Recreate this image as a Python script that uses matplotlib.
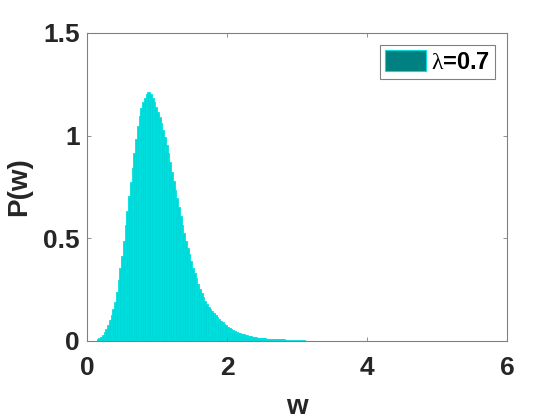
import matplotlib
matplotlib.use("Agg")
import matplotlib.pyplot as plt
import numpy as np

plt.rcParams['font.family'] = ['Liberation Sans', 'DejaVu Sans']
plt.rcParams['mathtext.fontset'] = 'custom'
plt.rcParams['mathtext.rm'] = 'Liberation Serif'
plt.rcParams['mathtext.it'] = 'Liberation Serif'

bin_start = 0.15
bin_width = 0.025
heights = [
    0.003, 0.008, 0.016, 0.026, 0.037, 0.052, 0.071, 0.095, 0.122, 0.152,
    0.186, 0.232, 0.290, 0.352, 0.41, 0.48, 0.56, 0.63, 0.70, 0.77,
    0.84, 0.91, 0.98, 1.04, 1.09, 1.13, 1.16, 1.18, 1.20, 1.21,
    1.20, 1.18, 1.16, 1.135, 1.11, 1.085, 1.055, 1.025, 0.99, 0.95,
    0.91, 0.865, 0.82, 0.775, 0.73, 0.69, 0.65, 0.605, 0.56, 0.52,
    0.48, 0.45, 0.42, 0.385, 0.35, 0.325, 0.30, 0.275, 0.25, 0.23,
    0.21, 0.192, 0.175, 0.162, 0.15, 0.14, 0.13, 0.12, 0.11, 0.102,
    0.094, 0.087, 0.080, 0.072, 0.065, 0.059, 0.053, 0.048, 0.044, 0.040,
    0.036, 0.033, 0.030, 0.027, 0.025, 0.022, 0.020, 0.018, 0.016, 0.014,
    0.013, 0.012, 0.011, 0.010, 0.009, 0.008, 0.007, 0.0065, 0.006, 0.0055,
    0.005, 0.0045, 0.004, 0.0035, 0.003, 0.0028, 0.0025, 0.0022, 0.002, 0.0018,
    0.0015, 0.0013, 0.0012, 0.001, 0.001, 0.0008, 0.0007, 0.0006, 0.0005,
]
legend_label = r'$\lambda$=0.7'
xticks = [0, 2, 4, 6]
yticks = [0, 0.5, 1, 1.5]
yticklabels = ['0', '0.5', '1', '1.5']

fig = plt.figure(figsize=(5.6, 4.2), dpi=100)
ax = fig.add_axes([87/560, 79/420, 420/560, 308/420])

edges = bin_start + bin_width * np.arange(len(heights))
ax.bar(edges, heights, width=bin_width, align='edge',
       facecolor='#00A8A8', edgecolor='#00DEDE', linewidth=1.3,
       label=legend_label)

ax.set_xlim(0, 6)
ax.set_ylim(0, 1.5)
ax.set_xticks(xticks)
ax.set_yticks(yticks)
ax.set_yticklabels(yticklabels)
ax.tick_params(direction='in', length=3, width=0.6,
               labelsize=19, top=True, right=True, color='#808080',
               labelcolor='#262626')
ax.tick_params(axis='x', pad=11)
ax.tick_params(axis='y', pad=5)
for lab in ax.get_xticklabels() + ax.get_yticklabels():
    lab.set_fontweight('bold')
for sp in ax.spines.values():
    sp.set_color('#808080')
    sp.set_linewidth(0.8)

ax.set_xlabel('w', fontsize=20, fontweight='bold', color='#262626', labelpad=10)
ax.set_ylabel('P(w)', fontsize=20, fontweight='bold', color='#262626', labelpad=8)

leg = ax.legend(loc='upper right', prop={'weight': 'bold', 'size': 17},
                fancybox=False, edgecolor='#808080', framealpha=1,
                handlelength=1.75, handleheight=1.0, borderpad=0.22,
                handletextpad=0.2, borderaxespad=0.5)
leg.get_frame().set_linewidth(0.8)
leg.legend_handles[0].set_facecolor('#008080')
leg.legend_handles[0].set_edgecolor('#00E0E0')
leg.legend_handles[0].set_linewidth(0.8)

fig.savefig('out.png', dpi=100)
